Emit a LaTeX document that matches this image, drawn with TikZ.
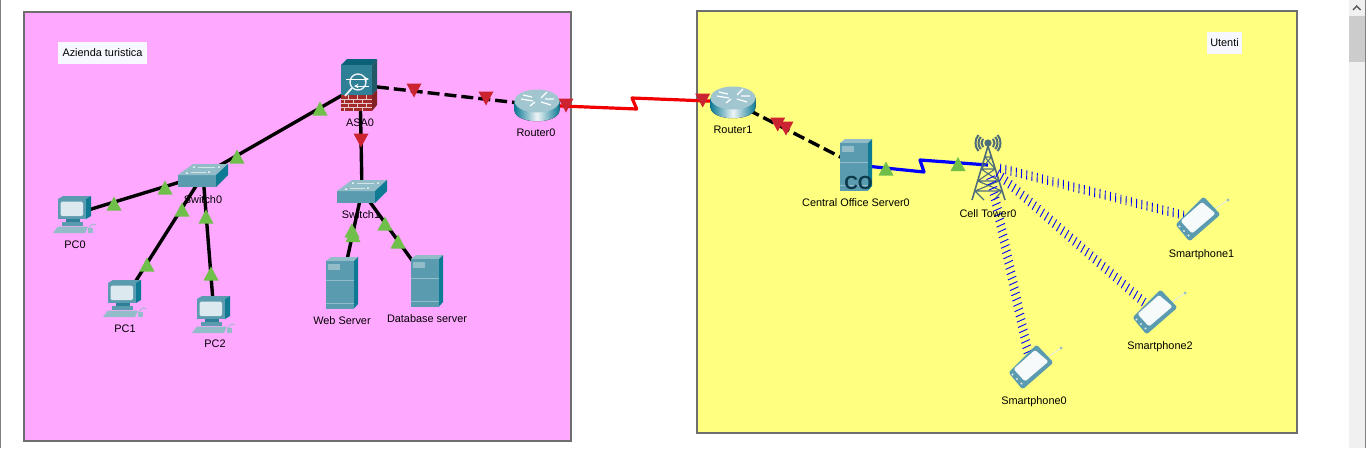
\documentclass[tikz,border=0pt]{standalone}
\usepackage{fontspec}
\setmainfont{Liberation Sans}
\usetikzlibrary{decorations.markings}
\definecolor{pinkbg}{HTML}{FFA8FF}
\definecolor{yellowbg}{HTML}{FFFF80}
\definecolor{framec}{HTML}{6E6E6E}
\definecolor{devfront}{HTML}{5B9BB0}
\definecolor{devtop}{HTML}{92BCC8}
\definecolor{devside}{HTML}{0E7A94}
\definecolor{devdark}{HTML}{2F7F96}
\definecolor{screenc}{HTML}{DCE9EE}
\definecolor{trigreen}{HTML}{70BF4B}
\definecolor{trired}{HTML}{CB2330}
\definecolor{towerc}{HTML}{4F6E7A}
\definecolor{brick}{HTML}{A32A2A}
\definecolor{codark}{HTML}{0D3A4A}
\tikzset{
  lab/.style={font=\fontsize{10.9}{12}\selectfont,inner sep=0pt,text=black},
  notebox/.style={lab,fill=white!97!blue,minimum height=22pt,anchor=center},
  framebox/.style={draw=framec,line width=1.6pt},
  wire/.style={line width=3.4pt,black},
  dashwire/.style={wire,dash pattern=on 12pt off 5pt},
  redline/.style={line width=3.2pt,red!95!black,line join=round},
  blueline/.style={line width=3.2pt,blue,line join=round},
  wireless/.style={postaction={decorate,decoration={markings,
    mark=between positions 13pt and -6pt step 5.4pt with {\draw[blue,line width=.9pt] (1pt,-4.5pt) -- (-1pt,4.5pt);}}}},
  pics/upt/.style={code={\fill[trigreen] (-7.5,7) -- (7.5,7) -- (0,-7) -- cycle;}},
  pics/downt/.style={code={\fill[trired] (-7.5,-7) -- (7.5,-7) -- (0,7) -- cycle;}},
  pics/netrouter/.style={code={
    \fill[left color=devside,right color=devside,middle color=white!85!devtop]
      (-22.5,-4) -- (-22.5,5) .. controls (-22.5,20) and (22.5,20) .. (22.5,5) -- (22.5,-4) -- cycle;
    \fill[devtop!85!white] (0,-4) ellipse[x radius=22.5,y radius=11.5];
    \draw[white,line width=1.2pt] (-16,-6) -- (-4,-4) (-14,-10) -- (-5,-8)
      (4,-7) -- (10,-13) (8,-6) -- (17,-6) (-7,1) -- (-2,-3) (4,-3) -- (14,0);
  }},
  pics/netswitch/.style={code={
    \fill[devfront] (-25,0) rectangle (13,12);
    \fill[devtop] (-25,0) -- (-10,-11) -- (25,-11) -- (13,0) -- cycle;
    \fill[devside] (25,-11) -- (25,0) -- (13,12) -- (13,0) -- cycle;
    \fill[white] (-16,-2) circle[radius=1] (-9,-8) circle[radius=1] (6,-3) circle[radius=1] (16,-8) circle[radius=1];
    \draw[white!60!devtop,line width=.8pt] (-12,-3) -- (3,-3) (-5,-8) -- (12,-8);
  }},
  pics/netpc/.style={code={
    \fill[devside] (11,-18) -- (16,-18) -- (16,2) -- (11,5) -- cycle;
    \fill[devfront] (-17,-15) -- (-12,-18) -- (16,-18) -- (11,-15) -- cycle;
    \fill[devfront] (-17,-15) rectangle (11,5);
    \fill[screenc,rounded corners=1.5pt] (-14.5,-12.5) rectangle (8,2);
    \fill[devdark] (-9,5) rectangle (5,8);
    \fill[devfront] (-13,8) rectangle (8,11.5);
    \fill[devtop] (-22,19) -- (-17,12.5) -- (13,12.5) -- (10,19) -- cycle;
    \draw[devtop,line width=.8pt] (14,14) .. controls (17,9) and (20,9) .. (21,11);
    \fill[devtop] (13,14) rectangle (18,19);
  }},
  pics/netserver/.style={code={
    \fill[devtop] (-16,-22) -- (-11,-26) -- (16,-26) -- (12,-22) -- cycle;
    \fill[devside] (12,-22) -- (16,-26) -- (16,21) -- (12,25.5) -- cycle;
    \fill[devfront] (-16,-22) rectangle (12,25.5);
    \fill[devtop] (-14,-19) rectangle (-2,-13);
    \draw[devtop,line width=.8pt] (-16,-3) -- (12,-3) (-16,20) -- (12,20);
  }},
  pics/netasa/.style={code={
    \fill[devside!80!black] (-19,-20) -- (-13,-26) -- (17,-26) -- (12,-20) -- cycle;
    \fill[devdark!70!black] (12,-20) -- (17,-26) -- (17,5) -- (12,10) -- cycle;
    \fill[devdark] (-19,-20) rectangle (12,10);
    \fill[brick!80!black] (12,10) -- (17,5) -- (17,20) -- (12,26) -- cycle;
    \fill[brick] (-19,10) rectangle (12,26);
    \draw[white!75!brick,line width=.6pt] (-19,14) -- (12,14) (-19,18) -- (12,18) (-19,22) -- (12,22)
      (-12,10) -- (-12,14) (-3,10) -- (-3,14) (6,10) -- (6,14)
      (-16,14) -- (-16,18) (-7,14) -- (-7,18) (2,14) -- (2,18)
      (-12,18) -- (-12,22) (-3,18) -- (-3,22) (6,18) -- (6,22)
      (-16,22) -- (-16,26) (-7,22) -- (-7,26) (2,22) -- (2,26);
    \draw[white!80!devtop,line width=1.8pt] (-8,3) -- (-15,11);
    \draw[white!80!devtop,line width=1.4pt] (-2,-3) circle[radius=8];
    \draw[white,line width=1pt,-stealth] (-14,-6) -- (9,-6);
    \draw[white,line width=1pt,-stealth] (9,1) -- (-6,1);
  }},
  pics/netphone/.style={code={
    \draw[white!70!devtop,line width=.8pt] (17,-10) -- (30,-19);
    \fill[devtop] (30,-19) circle[radius=1.5];
    \fill[devfront,rounded corners=2.5pt] (5.5,-22.5) -- (22.5,-4.5) -- (-8.5,22.5) -- (-22.5,5.5) -- cycle;
    \fill[white!92!devtop,rounded corners=1.5pt] (4,-17) -- (17.5,-5.5) -- (-6,14.5) -- (-17.5,2) -- cycle;
    \fill[white!70!devtop] (-18.5,7.5) circle[radius=1.2] (-14,12) circle[radius=1.2] (-9.5,16.5) circle[radius=1.2];
  }},
  pics/nettower/.style={code={
    \foreach \r in {6.5,9.5,12.5} {
      \draw[towerc,line width=2pt] (0,-22) ++(140:\r) arc[start angle=140,end angle=220,radius=\r];
      \draw[towerc,line width=2pt] (0,-22) ++(40:\r) arc[start angle=40,end angle=-40,radius=\r];
    }
    \draw[towerc,line width=1.6pt,line join=round] (-16,35) -- (0,-19) -- (17,35);
    \draw[towerc,line width=1.1pt] (-3.3,-8) -- (3.5,-8) (-6.8,4) -- (7.2,4) (-10.4,16) -- (11,16) (-13,26) -- (14,26)
      (-3.3,-8) -- (7.2,4) (3.5,-8) -- (-6.8,4) (-6.8,4) -- (11,16) (7.2,4) -- (-10.4,16)
      (-10.4,16) -- (14,26) (11,16) -- (-13,26) (-13,26) -- (-4,35) (14,26) -- (6,35);
    \fill[towerc] (0,-22) circle[radius=3.6];
  }},
}
\begin{document}
\begin{tikzpicture}[x=1pt,y=-1pt]
\useasboundingbox (0,0) rectangle (1366,448);
\fill[white] (0,0) rectangle (1366,448);
% window chrome
\fill[gray] (0,0) rectangle (1,448);
\fill[black!6] (1349,0) rectangle (1364.5,448);
\fill[black!20] (1349,16) rectangle (1364.5,62);
\fill[gray] (1365,0) rectangle (1366,448);
\draw[black!65,line width=1.4pt] (1353,10) -- (1356.7,6) -- (1360.5,10);
% clusters
\fill[framebox,fill=pinkbg] (24,12) rectangle (571,441);
\fill[framebox,fill=yellowbg] (697,11) rectangle (1297,433);
\node[notebox,minimum width=89pt] (noteA) at (102.5,53) {\raisebox{-.6pt}{Azienda turistica}};
\node[notebox,minimum width=35pt] (noteU) at (1224.5,43) {\raisebox{-.6pt}{Utenti}};
% device centres
\coordinate (asa) at (360,85);
\coordinate (r0) at (537,105);
\coordinate (r1) at (733,102);
\coordinate (sw0) at (203,175);
\coordinate (sw1) at (362,191);
\coordinate (pc0) at (75,214);
\coordinate (pc1) at (125,298);
\coordinate (pc2) at (214,314);
\coordinate (web) at (342,283);
\coordinate (db) at (427,281);
\coordinate (co) at (856,165);
\coordinate (tw) at (988,165);
\coordinate (sp0) at (1031,367);
\coordinate (sp1) at (1198,219);
\coordinate (sp2) at (1155,312);
\coordinate (redA) at (636.7,109);
\coordinate (redB) at (632,98);
\coordinate (blueA) at (924,172);
\coordinate (blueB) at (920,160);
% connectors
\draw[wire] (asa) -- (sw0);
\draw[wire] (asa) -- (sw1);
\draw[dashwire] (asa) -- (r0);
\draw[wire] (sw0) -- (pc0);
\draw[wire] (sw0) -- (pc1);
\draw[wire] (sw0) -- (pc2);
\draw[wire] (sw1) -- (web);
\draw[wire] (sw1) -- (db);
\draw[redline] (r0) -- (redA) -- (redB) -- (r1);
\draw[dashwire] (r1) -- (co);
\draw[blueline] (co) -- (blueA) -- (blueB) -- (tw);
% devices
\pic at (pc0) {netpc};
\pic at (pc1) {netpc};
\pic at (pc2) {netpc};
\pic at (sw0) {netswitch};
\pic at (sw1) {netswitch};
\pic at (asa) {netasa};
\pic at (r0) {netrouter};
\pic at (r1) {netrouter};
\pic at (web) {netserver};
\pic at (db) {netserver};
\pic at (co) {netserver};
\node[inner sep=0pt,font=\fontsize{19}{19}\bfseries\selectfont,text=codark] (coText) at (858.5,182.5) {CO};
\pic at (tw) {nettower};
\path[wireless] (tw) -- (sp0);
\path[wireless] (tw) -- (sp1);
\path[wireless] (tw) -- (sp2);
\pic at (sp0) {netphone};
\pic at (sp1) {netphone};
\pic at (sp2) {netphone};
% status triangles
\foreach \p in {(414,90.5),(486,98.5),(361,140.5),(566,105.5),(702.7,100.5),(777.7,124.5),(786,128.5)}
  \pic at \p {downt};
\foreach \p in {(320,108.5),(237,156.5),(165,187.5),(114,203.5),(182,209.5),(147,264.5),(206,216.5),(211,273.5),
  (352,230.5),(353,235),(385,223.5),(398,241.5),(886,168.5),(958,164)}
  \pic at \p {upt};
% labels
\node[lab] (lAsa) at (360,123) {ASA0};
\node[lab] (lR0) at (536,133) {Router0};
\node[lab] (lR1) at (733,130) {Router1};
\node[lab] (lSw0) at (203,200) {Switch0};
\node[lab] (lSw1) at (361,215) {Switch1};
\node[lab] (lPc0) at (75,245) {PC0};
\node[lab] (lPc1) at (125,329) {PC1};
\node[lab] (lPc2) at (215,344) {PC2};
\node[lab] (lWeb) at (342,321) {Web Server};
\node[lab] (lDb) at (427,319) {Database server};
\node[lab] (lCo) at (856,203) {Central Office Server0};
\node[lab] (lTw) at (988,214) {Cell Tower0};
\node[lab] (lS1) at (1201.5,254.5) {Smartphone1};
\node[lab] (lS2) at (1160,346.5) {Smartphone2};
\node[lab] (lS0) at (1034,401.5) {Smartphone0};
\end{tikzpicture}
\end{document}
